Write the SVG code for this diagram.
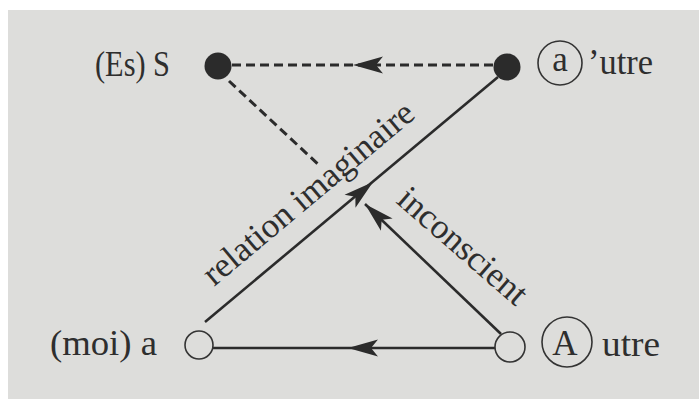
<svg xmlns="http://www.w3.org/2000/svg" xmlns:xlink="http://www.w3.org/1999/xlink" width="699" height="399" viewBox="0 0 699 399">
<style>
  .lbl{font-family:"Liberation Serif","Times New Roman",serif;font-size:35px;fill:#2e2e2e}
  .ln{stroke:#2b2b2b;stroke-width:2.6;fill:none;stroke-linecap:butt}
  .dash{stroke-dasharray:9 5;stroke-width:3}
  .dot{fill:#2b2b2b}
  .hol{fill:none;stroke:#333;stroke-width:1.6}
  .ah{fill:#2b2b2b}
</style>
<defs>
  <path id="ah" d="M0,0 L-30,-8.5 L-23,0 L-30,8.5 Z"/>
</defs>
<rect x="0" y="0" width="699" height="399" fill="#ffffff"/>
<rect x="8" y="10" width="691" height="389" fill="#dddddb"/>

<g id="connectors">
  <line class="ln dash" x1="232" y1="65" x2="494" y2="65"/>
  <use xlink:href="#ah" class="ah" transform="translate(353,65) rotate(180)"/>
  <line class="ln dash" x1="229" y1="81" x2="320" y2="166"/>
  <line class="ln" x1="205" y1="322" x2="498" y2="77"/>
  <use xlink:href="#ah" class="ah" transform="translate(373,182) rotate(-40)"/>
  <line class="ln" x1="501" y1="334" x2="365" y2="204"/>
  <use xlink:href="#ah" class="ah" transform="translate(365,204) rotate(223.5)"/>
  <line class="ln" x1="213" y1="348" x2="495" y2="348"/>
  <use xlink:href="#ah" class="ah" transform="translate(348,348) rotate(180)"/>
  <text class="lbl" transform="translate(214,287) rotate(-40)" textLength="265" lengthAdjust="spacingAndGlyphs">relation imaginaire</text>
  <text class="lbl" transform="translate(395,202) rotate(41)" textLength="160" lengthAdjust="spacingAndGlyphs">inconscient</text>
</g>

<g id="node-S">
  <circle class="dot" cx="218" cy="66" r="13.5"/>
  <text class="lbl" x="95" y="76" textLength="75" lengthAdjust="spacingAndGlyphs">(Es) S</text>
</g>
<g id="node-a-prime">
  <circle class="dot" cx="507" cy="67" r="13.5"/>
  <circle class="hol" cx="560" cy="63" r="22"/>
  <text class="lbl" x="560" y="71" text-anchor="middle">a</text>
  <text class="lbl" x="588" y="74" textLength="65" lengthAdjust="spacingAndGlyphs">’utre</text>
</g>
<g id="node-moi">
  <circle class="hol" cx="199" cy="345" r="14"/>
  <text class="lbl" x="50" y="355" textLength="107" lengthAdjust="spacingAndGlyphs">(moi) a</text>
</g>
<g id="node-A">
  <circle class="hol" cx="510" cy="347" r="15"/>
  <circle class="hol" cx="567" cy="342" r="25"/>
  <text class="lbl" x="565" y="355" text-anchor="middle">A</text>
  <text class="lbl" x="602" y="356" textLength="58" lengthAdjust="spacingAndGlyphs">utre</text>
</g>
</svg>
